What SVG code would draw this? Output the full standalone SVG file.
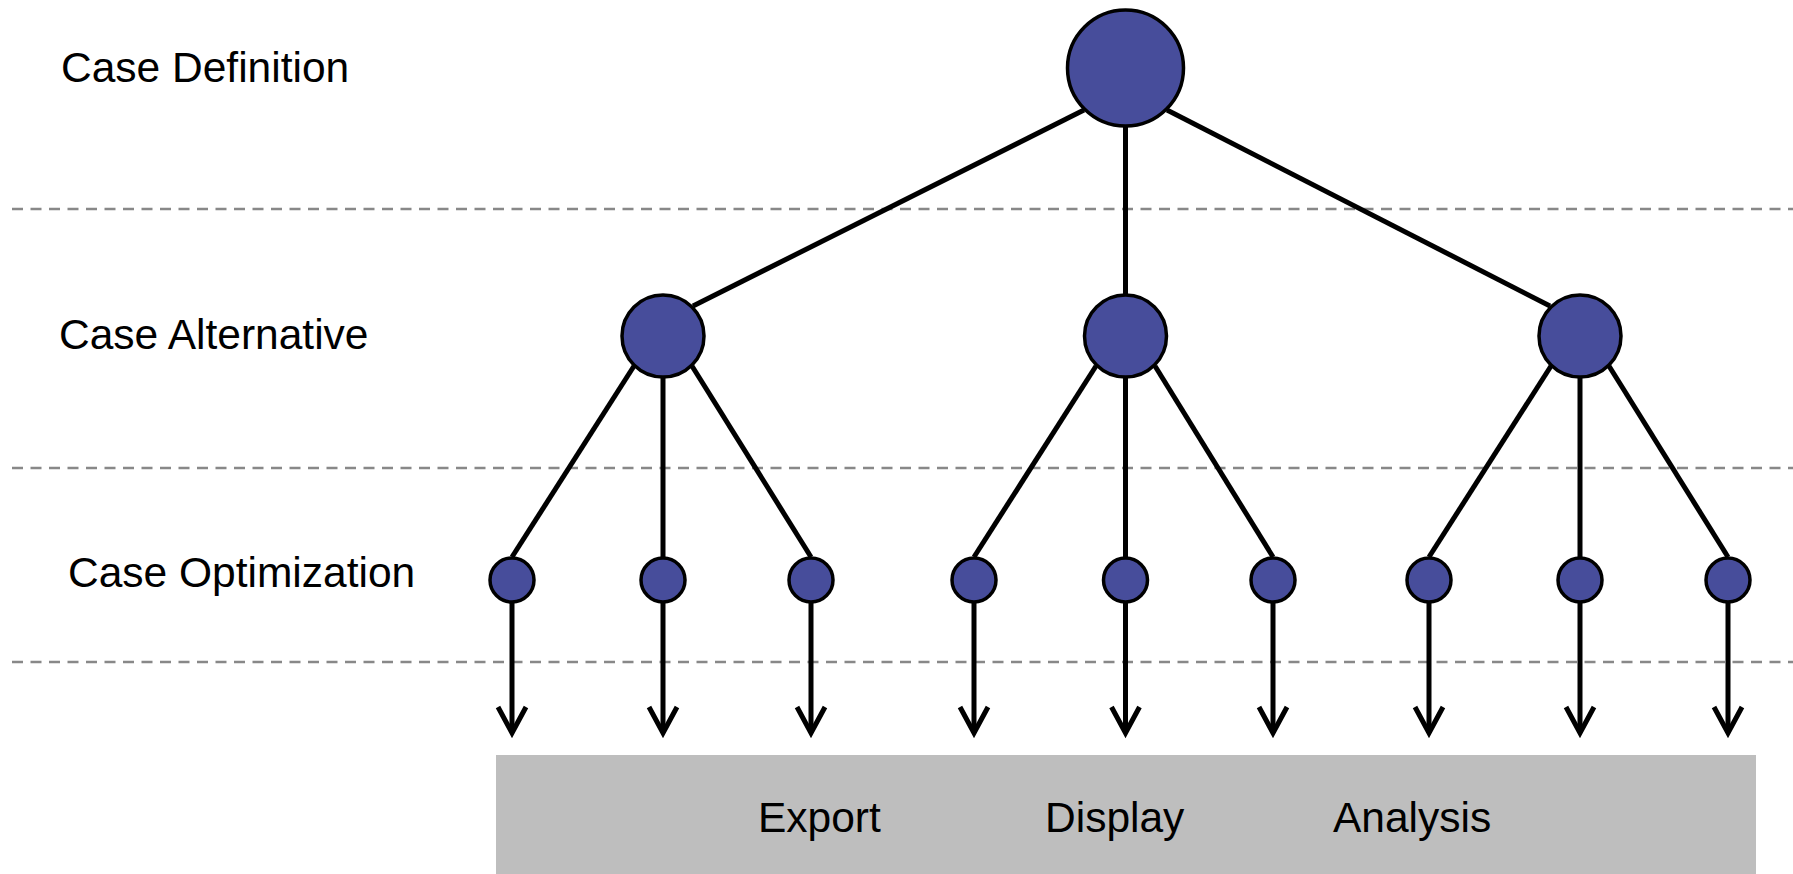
<svg xmlns="http://www.w3.org/2000/svg" width="1793" height="874" viewBox="0 0 1793 874">
<style>
.lbl{font-family:"Liberation Sans",Arial,sans-serif;font-size:42.5px;fill:#000}
.node{fill:#474D9B;stroke:#000;stroke-width:3.5}
.edge{stroke:#000;stroke-width:5;fill:none}
.dash{stroke:#888;stroke-width:2.5;stroke-dasharray:11 7.5;fill:none}
</style>
<rect x="0" y="0" width="1793" height="874" fill="#fff"/>
<g id="guides">
<line class="dash" x1="12" y1="209" x2="1793" y2="209"/>
<line class="dash" x1="12" y1="468" x2="1793" y2="468"/>
<line class="dash" x1="12" y1="662" x2="1793" y2="662"/>
</g>
<g id="labels">
<text class="lbl" x="61" y="82">Case Definition</text>
<text class="lbl" x="59" y="349">Case Alternative</text>
<text class="lbl" x="68" y="587">Case Optimization</text>
</g>
<g id="output">
<rect x="496" y="755" width="1260" height="119" fill="#bebebe"/>
<text class="lbl" x="758" y="832">Export</text>
<text class="lbl" x="1045" y="832">Display</text>
<text class="lbl" x="1333" y="832">Analysis</text>
</g>
<g id="connectors">
<line class="edge" x1="1084" y1="110" x2="693" y2="306"/>
<line class="edge" x1="1125.5" y1="127" x2="1125.5" y2="294"/>
<line class="edge" x1="1167" y1="110" x2="1550" y2="306"/>
<line class="edge" x1="634" y1="366" x2="512" y2="557"/>
<line class="edge" x1="663" y1="378" x2="663" y2="557"/>
<line class="edge" x1="692" y1="366" x2="811" y2="557"/>
<line class="edge" x1="1096" y1="366" x2="974" y2="557"/>
<line class="edge" x1="1125.5" y1="378" x2="1125.5" y2="557"/>
<line class="edge" x1="1155" y1="366" x2="1273" y2="557"/>
<line class="edge" x1="1551" y1="366" x2="1429" y2="557"/>
<line class="edge" x1="1580" y1="378" x2="1580" y2="557"/>
<line class="edge" x1="1609" y1="366" x2="1728" y2="557"/>
<path class="edge" d="M512 580V733M663 580V733M811 580V733M974 580V733M1125.5 580V733M1273 580V733M1429 580V733M1580 580V733M1728 580V733"/>
<path class="edge" d="M498 707L512 733L526 707M649 707L663 733L677 707M797 707L811 733L825 707M960 707L974 733L988 707M1111.5 707L1125.5 733L1139.5 707M1259 707L1273 733L1287 707M1415 707L1429 733L1443 707M1566 707L1580 733L1594 707M1714 707L1728 733L1742 707"/>
</g>
<g id="root"><circle class="node" cx="1125.5" cy="68" r="58"/></g>
<g id="alt1"><circle class="node" cx="663" cy="336" r="41"/></g>
<g id="alt2"><circle class="node" cx="1125.5" cy="336" r="41"/></g>
<g id="alt3"><circle class="node" cx="1580" cy="336" r="41"/></g>
<g id="opt1"><circle class="node" cx="512" cy="580" r="22"/></g>
<g id="opt2"><circle class="node" cx="663" cy="580" r="22"/></g>
<g id="opt3"><circle class="node" cx="811" cy="580" r="22"/></g>
<g id="opt4"><circle class="node" cx="974" cy="580" r="22"/></g>
<g id="opt5"><circle class="node" cx="1125.5" cy="580" r="22"/></g>
<g id="opt6"><circle class="node" cx="1273" cy="580" r="22"/></g>
<g id="opt7"><circle class="node" cx="1429" cy="580" r="22"/></g>
<g id="opt8"><circle class="node" cx="1580" cy="580" r="22"/></g>
<g id="opt9"><circle class="node" cx="1728" cy="580" r="22"/></g>
</svg>
